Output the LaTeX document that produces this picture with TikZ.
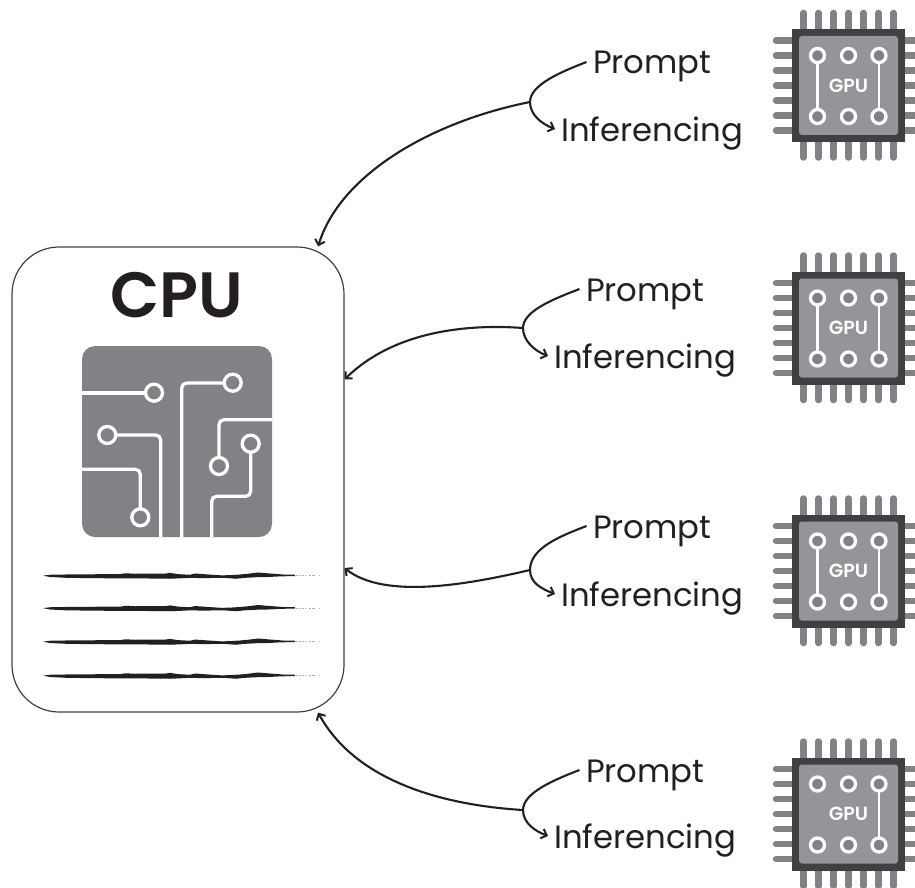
\documentclass[tikz,border=0pt]{standalone}
\usepackage{fontspec}
\setmainfont{Poppins}[BoldFont={Poppins SemiBold}]
\usetikzlibrary{arrows.meta}

\definecolor{inkdark}{HTML}{231F20}
\definecolor{chipframe}{HTML}{404042}
\definecolor{chipcore}{HTML}{939598}
\definecolor{chippin}{HTML}{808285}

\tikzset{
	cpubox/.style={draw=inkdark!85, line width=1.2, rounded corners=47, minimum width=332, minimum height=465, inner sep=0},
	labeltext/.style={anchor=west, inner ysep=0, text height=24, text depth=0, text=inkdark, font=\fontsize{32.3}{36}\selectfont},
	trace/.style={draw=white, line width=3.3, rounded corners=5},
	pad/.style={draw=white, line width=3.3, fill=chippin},
	flow/.style={inkdark, line width=2.1, -{Straight Barb[length=5, width=10, line width=2]}},
	branch/.style={inkdark, line width=2.1}
}

\begin{document}
\begin{tikzpicture}[x=1pt, y=-1pt]
		\clip (0, 0) rectangle (915, 888);
		\fill[white] (0, 0) rectangle (915, 888);

		% cpu card
		\node[cpubox] (cpu) at (178, 479.5) {};
		\node[text=inkdark, font=\fontsize{64}{70}\bfseries\selectfont] (cpulabel) at (177, 295) {CPU};

		% circuit tile
		\fill[chippin, rounded corners=13] (82, 346) rectangle (272, 537);
		\draw[trace] (82, 393) -- (154, 393);
		\draw[trace] (232.7, 383) -- (181.7, 383) -- (181.7, 537);
		\draw[trace] (107.3, 435) -- (160.7, 435) -- (160.7, 537);
		\draw[trace] (82, 469.3) -- (140.3, 469.3) -- (140.3, 517);
		\draw[trace] (272, 419.7) -- (219, 419.7) -- (219, 466);
		\draw[trace] (250.7, 444) -- (250.7, 496.3) -- (211.7, 496.3) -- (211.7, 537);
		\foreach \px/\py in {154/392.7, 232.7/382.7, 107.3/435, 219/466, 250.7/443.7, 140.3/517.3}
			\draw[pad] (\px, \py) circle (8.5);

		% brush lines
		\foreach \ly in {576, 608.5, 642, 676} {
			\begin{scope}[shift={(0, \ly)}, yscale=1.25]
				\fill[inkdark] (43, -0.3) -- (50, -1) -- (60, -1.1) -- (75, -1.4) -- (90, -1.3) -- (105, -1.6) -- (120, -1.4) -- (125, -2.2) -- (135, -1.8)
					-- (150, -1.9) -- (165, -1.9) -- (170, -2.5) -- (178, -1.5) -- (190, -1) -- (195, -2) -- (205, -1.4) -- (222, -0.5) -- (232, -0.8)
					-- (240, -1.2) -- (248, -1.8) -- (258, -2.8) -- (270, -2) -- (283, -1.2) -- (295, -1)
					-- (295, 0) -- (280, 0.3) -- (268, 0.8) -- (256, 1) -- (244, 1.5) -- (236, 2.2) -- (228, 1.7) -- (222, 1.4) -- (205, 1.7) -- (190, 1.5)
					-- (170, 2.2) -- (150, 2) -- (125, 1.9) -- (105, 1.8) -- (80, 1.6) -- (65, 1.4) -- (50, 0.8) -- cycle;
				\foreach \sx/\sw in {296/2, 299/1.5, 302/2, 305/1, 309/1.5, 312/2.5, 319/1}
					\fill[inkdark!35] (\sx, -0.6) rectangle ++(\sw, 0.9);
			\end{scope}
		}

		% gpu chips
		\foreach \cy in {85.5, 328, 571, 814} {
			\begin{scope}[shift={(848.5, \cy)}]
				\foreach \off in {-45, -30, -15, 0, 15, 30, 45} {
					\draw[chippin, line width=6.5, line cap=round] (\off, -72.5) -- (\off, 72);
					\draw[chippin, line width=6.5, line cap=round] (-72.5, \off) -- (72.5, \off);
				}
				\fill[chipframe] (-56.5, -56.5) rectangle (56.5, 56.5);
				\fill[chipcore, rounded corners=3] (-49.5, -49.5) rectangle (49.5, 49.5);
				\draw[white, line width=2.8] (30.5, -30) -- (30.5, 31);
				\foreach \px in {-31, 0, 30.5}
					\foreach \py in {-30, 31}
						\draw[pad] (\px, \py) circle (7);
			\end{scope}
		}
		\foreach \cy in {85.5, 328, 571} {
			\draw[white, line width=2.8] (817.5, \cy - 22) -- (817.5, \cy + 23);
		}
		\foreach \cy [count=\i] in {85.5, 328, 571, 814}
			\node[text=white, font=\fontsize{19}{20}\bfseries\selectfont] (gpu\i) at (848.5, \cy) {GPU};

		% request labels
		\node[labeltext, inner xsep=6.5] (prompt1) at (586.5, 62) {Prompt};
		\node[labeltext, inner xsep=6] (infer1) at (555, 129) {Inferencing};
		\node[labeltext, inner xsep=6.5] (prompt2) at (579.5, 289) {Prompt};
		\node[labeltext, inner xsep=6] (infer2) at (548, 356) {Inferencing};
		\node[labeltext, inner xsep=6.5] (prompt3) at (586.5, 526) {Prompt};
		\node[labeltext, inner xsep=6] (infer3) at (555, 594) {Inferencing};
		\node[labeltext, inner xsep=6.5] (prompt4) at (579.5, 770) {Prompt};
		\node[labeltext, inner xsep=6] (infer4) at (548, 836) {Inferencing};

		\coordinate (fork1) at (530, 102);
		\coordinate (fork2) at (523, 328);
		\coordinate (fork3) at (530, 570);
		\coordinate (fork4) at (523, 810);

		% connectors
		\draw[branch] (prompt1.west) .. controls +(-26, 10) and +(0, -17) .. (fork1);
		\draw[flow] (fork1) .. controls +(0, 13) and +(-13, -5) .. (infer1.west);
		\draw[flow] (fork1) .. controls (430, 122) and (340, 175) .. (cpu.59.7);
		\draw[branch] (prompt2.west) .. controls +(-26, 10) and +(0, -17) .. (fork2);
		\draw[flow] (fork2) .. controls +(0, 13) and +(-13, -5) .. (infer2.west);
		\draw[flow] (fork2) .. controls (470, 324) and (395, 330) .. (cpu.31.2);
		\draw[branch] (prompt3.west) .. controls +(-26, 10) and +(0, -22) .. (fork3);
		\draw[flow] (fork3) .. controls +(0, 13) and +(-13, -5) .. (infer3.west);
		\draw[flow] (fork3) .. controls (470, 584) and (385, 600) .. (cpu.-28.6);
		\draw[branch] (prompt4.west) .. controls +(-26, 10) and +(0, -17) .. (fork4);
		\draw[flow] (fork4) .. controls +(0, 13) and +(-13, -5) .. (infer4.west);
		\draw[flow] (fork4) .. controls (440, 805) and (355, 780) .. (cpu.-59);
	\end{tikzpicture}
\end{document}
